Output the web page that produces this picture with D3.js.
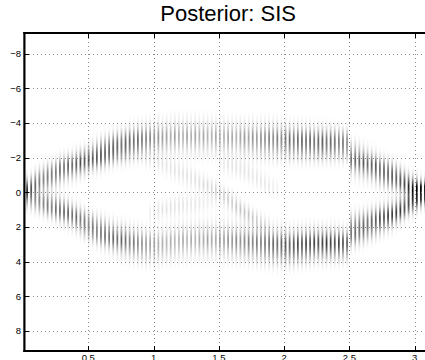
<!DOCTYPE html>
<html>
<head>
<meta charset="utf-8">
<script src="https://cdn.jsdelivr.net/npm/d3@7"></script>
<style>
  html, body { margin: 0; padding: 0; background: #fff; overflow: hidden; }
  svg { display: block; }
  text { font-family: "Liberation Sans", Arial, Helvetica, sans-serif; }
</style>
</head>
<body>
<svg id="chart" width="425" height="360"></svg>
<script>
// Filtering time grid: t_k = k * pi / STEPS, k = 0..STEPS
const STEPS = 100;

// Upper posterior mode (drawn at negative state values): distance from 0
const upperMean = [
  0.10, 0.25, 0.40, 0.55, 0.70, 0.80, 0.90, 1.00, 1.10, 1.25, 1.35,
  1.45, 1.50, 1.60, 1.70, 1.80, 1.90, 2.00, 2.10, 2.20, 2.30,
  2.40, 2.50, 2.60, 2.65, 2.70, 2.80, 2.85, 2.90, 2.95, 3.00,
  3.05, 3.05, 3.10, 3.10, 3.15, 3.15, 3.20, 3.20, 3.20, 3.20,
  3.20, 3.20, 3.20, 3.20, 3.20, 3.20, 3.15, 3.15, 3.15, 3.10,
  3.10, 3.10, 3.10, 3.05, 3.05, 3.05, 3.00, 3.00, 3.00, 3.00,
  3.00, 2.95, 2.95, 2.95, 2.90, 2.90, 2.90, 2.85, 2.85, 2.85,
  2.80, 2.80, 2.80, 2.80, 2.80, 2.80, 2.80, 2.75, 2.75,
  1.95, 1.90, 1.80, 1.70, 1.60, 1.50, 1.40, 1.25, 1.15, 1.05, 0.95,
  0.85, 0.70, 0.55, 0.40, 0.30, 0.20, 0.10, 0.05, 0.00, 0.00
];
// Lower posterior mode (positive state values)
const lowerMean = [
  0.10, 0.20, 0.30, 0.40, 0.50, 0.60, 0.70, 0.80, 0.90, 1.00, 1.10,
  1.20, 1.35, 1.50, 1.65, 1.80, 1.95, 2.05, 2.20, 2.30, 2.40,
  2.50, 2.60, 2.70, 2.75, 2.80, 2.90, 2.95, 3.00, 3.05, 3.10,
  3.10, 3.10, 3.10, 3.05, 3.00, 2.95, 2.90, 2.85, 2.80, 2.80,
  2.75, 2.75, 2.75, 2.75, 2.75, 2.75, 2.75, 2.80, 2.80, 2.80,
  2.85, 2.85, 2.90, 2.90, 2.95, 2.95, 3.00, 3.00, 3.05, 3.05,
  3.10, 3.10, 3.10, 3.15, 3.15, 3.15, 3.10, 3.10, 3.05, 3.05,
  3.00, 3.00, 3.00, 3.00, 3.00, 3.00, 3.00, 3.00, 3.00,
  2.25, 2.20, 2.10, 2.00, 1.90, 1.80, 1.70, 1.60, 1.50, 1.40, 1.30,
  1.15, 1.00, 0.85, 0.65, 0.50, 0.35, 0.20, 0.10, 0.05, 0.00
];
// Spread of both modes at each step
const modeSpread = [
  0.40, 0.40, 0.40, 0.42, 0.42, 0.42, 0.44, 0.44, 0.44, 0.45, 0.45,
  0.45, 0.46, 0.46, 0.47, 0.47, 0.48, 0.48, 0.49, 0.50, 0.50,
  0.50, 0.52, 0.52, 0.54, 0.54, 0.55, 0.55, 0.56, 0.56, 0.57,
  0.57, 0.58, 0.58, 0.58, 0.60, 0.60, 0.60, 0.60, 0.60, 0.60,
  0.60, 0.60, 0.60, 0.60, 0.60, 0.60, 0.60, 0.60, 0.60, 0.60,
  0.60, 0.60, 0.60, 0.60, 0.60, 0.60, 0.60, 0.60, 0.60, 0.60,
  0.60, 0.60, 0.60, 0.58, 0.58, 0.58, 0.57, 0.57, 0.56, 0.56,
  0.55, 0.55, 0.55, 0.54, 0.54, 0.53, 0.53, 0.52, 0.52,
  0.55, 0.55, 0.54, 0.53, 0.52, 0.51, 0.50, 0.49, 0.48, 0.47, 0.46,
  0.45, 0.44, 0.43, 0.42, 0.42, 0.41, 0.40, 0.40, 0.40, 0.40
];
// Peak density (0 = white, 1 = black) of each mode
const upperPeak = [
  0.45, 0.50, 0.50, 0.55, 0.55, 0.55, 0.60, 0.60, 0.60, 0.65, 0.60,
  0.65, 0.60, 0.65, 0.70, 0.65, 0.70, 0.65, 0.70, 0.75, 0.70,
  0.70, 0.75, 0.70, 0.65, 0.70, 0.65, 0.60, 0.62, 0.55, 0.50,
  0.48, 0.42, 0.42, 0.38, 0.36, 0.32, 0.36, 0.32, 0.30, 0.35,
  0.30, 0.35, 0.30, 0.34, 0.30, 0.30, 0.34, 0.30, 0.30, 0.34,
  0.34, 0.30, 0.36, 0.40, 0.36, 0.42, 0.38, 0.44, 0.44, 0.50,
  0.46, 0.52, 0.48, 0.55, 0.60, 0.55, 0.60, 0.65, 0.60, 0.65,
  0.60, 0.65, 0.70, 0.60, 0.65, 0.60, 0.55, 0.60, 0.50,
  0.55, 0.60, 0.60, 0.65, 0.60, 0.65, 0.70, 0.65, 0.70, 0.70, 0.75,
  0.70, 0.75, 0.75, 0.80, 0.75, 0.80, 0.80, 0.80, 0.75, 0.70
];
const lowerPeak = [
  0.45, 0.50, 0.50, 0.50, 0.55, 0.55, 0.60, 0.55, 0.60, 0.60, 0.60,
  0.60, 0.55, 0.60, 0.55, 0.60, 0.55, 0.60, 0.55, 0.60, 0.60,
  0.55, 0.60, 0.55, 0.60, 0.55, 0.50, 0.52, 0.46, 0.44, 0.40,
  0.38, 0.36, 0.32, 0.32, 0.28, 0.32, 0.28, 0.28, 0.32, 0.28,
  0.32, 0.28, 0.32, 0.32, 0.36, 0.32, 0.32, 0.36, 0.36, 0.40,
  0.40, 0.45, 0.42, 0.46, 0.50, 0.48, 0.52, 0.50, 0.55, 0.56,
  0.62, 0.60, 0.65, 0.70, 0.65, 0.70, 0.75, 0.70, 0.75, 0.70,
  0.75, 0.70, 0.75, 0.80, 0.75, 0.70, 0.75, 0.70, 0.65,
  0.60, 0.65, 0.65, 0.70, 0.65, 0.70, 0.70, 0.75, 0.70, 0.75, 0.75,
  0.75, 0.80, 0.75, 0.80, 0.80, 0.85, 0.80, 0.80, 0.75, 0.70
];

// Weak secondary modes in the middle of the run (first step, centres, peaks)
const crossingStart = 30;
const crossingMean = [
  -1.90, -1.80, -1.70, -1.65, -1.55, -1.45, -1.35, -1.25, -1.15, -1.05,
  -0.95, -0.85, -0.75, -0.60, -0.50, -0.40, -0.25, -0.10, 0.10, 0.25,
  0.40, 0.60, 0.80, 0.95, 1.15, 1.30, 1.50, 1.65, 1.80, 1.95, 2.10
];
const crossingPeak = [
  0.04, 0.05, 0.06, 0.08, 0.09, 0.10, 0.11, 0.12, 0.12, 0.12,
  0.13, 0.13, 0.13, 0.13, 0.14, 0.14, 0.14, 0.16, 0.18, 0.20,
  0.22, 0.22, 0.24, 0.24, 0.22, 0.22, 0.20, 0.18, 0.15, 0.12, 0.08
];
const shelfStart = 31;
const shelfMean = [
  1.20, 1.10, 1.00, 0.95, 0.90, 0.85, 0.80, 0.75, 0.70,
  0.70, 0.65, 0.65, 0.60, 0.55, 0.50, 0.45, 0.40
];
const shelfPeak = [
  0.06, 0.09, 0.10, 0.11, 0.11, 0.12, 0.11, 0.12, 0.11,
  0.10, 0.10, 0.11, 0.10, 0.09, 0.08, 0.07, 0.05
];
const driftStart = 48;
const driftMean = [
  -1.60, -1.55, -1.50, -1.45, -1.40, -1.30, -1.20, -1.10,
  -1.00, -0.85, -0.70, -0.55, -0.40, -0.30, -0.20
];
const driftPeak = [
  0.06, 0.07, 0.09, 0.10, 0.11, 0.11, 0.12, 0.12,
  0.11, 0.11, 0.10, 0.10, 0.09, 0.07, 0.05
];
const weakSpread = 0.35;

const xTicks = [0.5, 1, 1.5, 2, 2.5, 3];
const yTicks = [-8, -6, -4, -2, 0, 2, 4, 6, 8];
const titleText = "Posterior: SIS";

// ---------------------------------------------------------------
const svg = d3.select("#chart");
const W = 425, H = 360;

const x = d3.scaleLinear().domain([0, Math.PI]).range([23.0, 433.2]);
const y = d3.scaleLinear().domain([-9.19, 9.16]).range([33, 351]);

// visible part of the axes (the box continues past the right page edge)
const plotLeft = 24, plotTop = 33, plotBottom = 351, plotRight = W;

svg.append("rect").attr("width", W).attr("height", H).attr("fill", "#fff");

svg.append("clipPath").attr("id", "plotClip")
  .append("rect").attr("x", plotLeft).attr("y", plotTop)
  .attr("width", plotRight - plotLeft).attr("height", plotBottom - plotTop);

// modes present at each step
function modesAt(k) {
  const list = [
    { m: -upperMean[k], s: modeSpread[k], p: upperPeak[k] },
    { m: lowerMean[k], s: modeSpread[k], p: lowerPeak[k] }
  ];
  const add = (start, means, peaks) => {
    const i = k - start;
    if (i >= 0 && i < means.length) list.push({ m: means[i], s: weakSpread, p: peaks[i] });
  };
  add(crossingStart, crossingMean, crossingPeak);
  add(shelfStart, shelfMean, shelfPeak);
  add(driftStart, driftMean, driftPeak);
  return list;
}

const dy = 0.06;
const yGrid = d3.range(-9.19, 9.16, dy);
const cells = [];
for (let k = 0; k <= STEPS; k++) {
  const t = k * Math.PI / STEPS;
  if (x(t) > plotRight + 2) continue;
  const modes = modesAt(k);
  for (const v of yGrid) {
    let d = 0;
    for (const md of modes) {
      const z = (v + dy / 2 - md.m) / md.s;
      d += md.p * Math.exp(-0.5 * z * z);
    }
    d = Math.min(1, d);
    if (d > 0.012) cells.push({ t, v, d });
  }
}

const gray = d => { const g = Math.round(255 * (1 - d)); return `rgb(${g},${g},${g})`; };

svg.append("g").attr("clip-path", "url(#plotClip)")
  .selectAll("rect").data(cells).join("rect")
  .attr("x", c => x(c.t) - 0.85)
  .attr("width", 1.7)
  .attr("y", c => y(c.v))
  .attr("height", c => y(c.v + dy) - y(c.v) + 0.15)
  .attr("fill", c => gray(c.d));

// dotted grid
const grid = svg.append("g")
  .attr("stroke", "#8a8a8a").attr("stroke-width", 1).attr("stroke-dasharray", "1,3");
grid.selectAll("line.gx").data(xTicks).join("line").attr("class", "gx")
  .attr("x1", d => Math.round(x(d)) + 0.5).attr("x2", d => Math.round(x(d)) + 0.5)
  .attr("y1", plotTop + 1).attr("y2", plotBottom - 1);
grid.selectAll("line.gy").data(yTicks).join("line").attr("class", "gy")
  .attr("y1", d => Math.round(y(d)) + 0.5).attr("y2", d => Math.round(y(d)) + 0.5)
  .attr("x1", plotLeft + 1).attr("x2", plotRight);

// axes box lines
const box = svg.append("g").attr("stroke", "#000");
box.append("line").attr("x1", 24.4).attr("x2", 24.4).attr("y1", 32).attr("y2", 352).attr("stroke-width", 2.2);
box.append("line").attr("x1", 23.3).attr("x2", plotRight).attr("y1", plotTop).attr("y2", plotTop).attr("stroke-width", 2);
box.append("line").attr("x1", 23.3).attr("x2", plotRight).attr("y1", plotBottom).attr("y2", plotBottom).attr("stroke-width", 2);

// inward tick marks
const tk = svg.append("g").attr("stroke", "#000").attr("stroke-width", 1);
tk.selectAll("line.ly").data(yTicks).join("line").attr("class", "ly")
  .attr("x1", 25).attr("x2", 29)
  .attr("y1", d => Math.round(y(d)) + 0.5).attr("y2", d => Math.round(y(d)) + 0.5);
tk.selectAll("line.bx").data(xTicks).join("line").attr("class", "bx")
  .attr("y1", 350).attr("y2", 346)
  .attr("x1", d => Math.round(x(d)) + 0.5).attr("x2", d => Math.round(x(d)) + 0.5);
tk.selectAll("line.tx").data(xTicks).join("line").attr("class", "tx")
  .attr("y1", 34).attr("y2", 38)
  .attr("x1", d => Math.round(x(d)) + 0.5).attr("x2", d => Math.round(x(d)) + 0.5);

// tick labels
const fmt = d => (d < 0 ? "\u2212" + Math.abs(d) : String(d));
svg.append("g").selectAll("text").data(yTicks).join("text")
  .attr("x", 21).attr("y", d => y(d) + 3.3)
  .attr("text-anchor", "end").attr("font-size", 9.5).attr("fill", "#000")
  .text(fmt);
svg.append("g").selectAll("text").data(xTicks).join("text")
  .attr("x", d => x(d)).attr("y", 361)
  .attr("text-anchor", "middle").attr("font-size", 9.5).attr("fill", "#000")
  .text(fmt);

// title
svg.append("text").attr("x", (x(0) + x(Math.PI)) / 2).attr("y", 21)
  .attr("text-anchor", "middle").attr("font-size", 22).attr("fill", "#000")
  .text(titleText);
</script>
</body>
</html>
